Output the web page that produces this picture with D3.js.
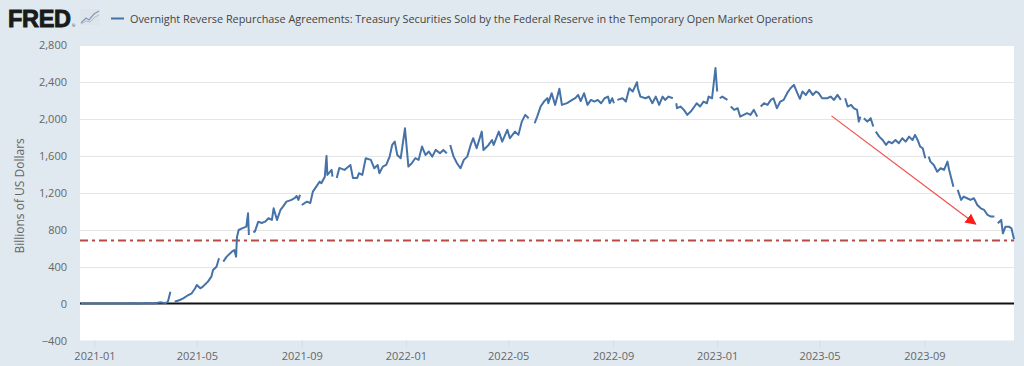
<!DOCTYPE html>
<html>
<head>
<meta charset="utf-8">
<script src="https://cdn.jsdelivr.net/npm/d3@7"></script>
<style>
  html, body { margin: 0; padding: 0; background: #e1e9f0; }
  svg { display: block; font-family: "Open Sans", "Noto Sans", sans-serif; }
</style>
</head>
<body>
<svg id="chart" width="1024" height="366"></svg>
<script>
// ---------- DATA (null = break in the line) ----------
const seriesTitle = "Overnight Reverse Repurchase Agreements: Treasury Securities Sold by the Federal Reserve in the Temporary Open Market Operations";
const yAxisTitle = "Billions of US Dollars";
const yTicks = [-400, 0, 400, 800, 1200, 1600, 2000, 2400, 2800];
const xTicks = ["2021-01", "2021-05", "2021-09", "2022-01", "2022-05", "2022-09", "2023-01", "2023-05", "2023-09"];
const xDomain = ["2020-12-15", "2023-12-15"];
const yDomain = [-400, 2800];
const referenceLevel = 685;             // dash-dot horizontal line
const arrowFrom = ["2023-05-15", 2035];  // annotation arrow
const arrowTo = ["2023-10-31", 863];

const obs2021 = [
  ["2020-12-16",0],["2020-12-28",1],["2021-01-07",2],["2021-01-19",0],["2021-02-01",1],["2021-02-12",3],
  ["2021-02-24",1],["2021-03-03",6],["2021-03-10",2],["2021-03-16",8],["2021-03-19",15],["2021-03-25",5],
  ["2021-03-28",20],["2021-03-31",129],["2021-04-02",null],["2021-04-05",20],["2021-04-11",39],["2021-04-15",57],
  ["2021-04-21",93],["2021-04-25",112],["2021-04-29",166],["2021-05-01",202],["2021-05-05",166],["2021-05-08",184],
  ["2021-05-12",220],["2021-05-14",238],["2021-05-18",292],["2021-05-20",364],["2021-05-24",400],["2021-05-27",491],
  ["2021-05-29",null],["2021-06-01",455],["2021-06-05",509],["2021-06-11",563],["2021-06-14",581],["2021-06-16",509],
  ["2021-06-17",720],["2021-06-19",798],["2021-06-23",816],["2021-06-28",834],["2021-06-30",979],["2021-07-01",744],
  ["2021-07-03",null],["2021-07-06",780],["2021-07-08",780],["2021-07-12",888],["2021-07-16",874],["2021-07-20",888],
  ["2021-07-24",925],["2021-07-28",907],["2021-07-30",1033],["2021-08-03",907],["2021-08-07",1015],["2021-08-10",1051],
  ["2021-08-14",1105],["2021-08-20",1124],["2021-08-24",1145],["2021-08-26",1167],["2021-08-28",1124],["2021-08-30",1178],
  ["2021-08-31",null],["2021-09-01",1069],["2021-09-07",1105],["2021-09-11",1091],["2021-09-14",1214],["2021-09-22",1322],
  ["2021-09-24",1305],["2021-09-28",1376],["2021-09-30",1601],["2021-10-01",1395],["2021-10-06",1449],["2021-10-07",1376],
  ["2021-10-09",null],["2021-10-12",1362],["2021-10-15",1471],["2021-10-21",1449],["2021-10-28",1503],["2021-10-31",1362],
  ["2021-11-05",1362],["2021-11-07",1413],["2021-11-11",1395],["2021-11-15",1576],["2021-11-21",1558],["2021-11-25",1467],
  ["2021-11-29",1503],["2021-12-01",1413],["2021-12-05",1485],["2021-12-09",1503],["2021-12-13",1593],["2021-12-16",1720],
  ["2021-12-19",1756],["2021-12-22",1611],["2021-12-26",1576],["2021-12-31",1900]
];
const obs2022 = [
  ["2022-01-04",1485],["2022-01-08",1522],["2022-01-12",1576],["2022-01-16",1558],["2022-01-20",1702],["2022-01-24",1611],
  ["2022-01-28",1648],["2022-02-01",1593],["2022-02-05",1666],["2022-02-10",1630],["2022-02-14",1666],["2022-02-18",1630],
  ["2022-02-20",null],["2022-02-22",1720],["2022-02-26",1593],["2022-03-02",1522],["2022-03-06",1467],["2022-03-10",1558],
  ["2022-03-14",1593],["2022-03-18",1720],["2022-03-21",1793],["2022-03-25",1684],["2022-03-31",1864],["2022-04-02",1666],
  ["2022-04-08",1720],["2022-04-12",1774],["2022-04-14",1720],["2022-04-20",1864],["2022-04-24",1756],["2022-04-30",1883],
  ["2022-05-03",1793],["2022-05-09",1864],["2022-05-13",1829],["2022-05-17",1973],["2022-05-21",2046],["2022-05-25",2010],
  ["2022-05-28",null],["2022-06-01",1955],["2022-06-04",2027],["2022-06-08",2136],["2022-06-12",2190],["2022-06-16",2227],
  ["2022-06-17",2173],["2022-06-21",2281],["2022-06-25",2154],["2022-06-30",2329],["2022-07-03",2154],["2022-07-09",2173],
  ["2022-07-15",2208],["2022-07-19",2230],["2022-07-22",2262],["2022-07-25",2195],["2022-07-29",2281],["2022-08-02",2154],
  ["2022-08-06",2208],["2022-08-10",2190],["2022-08-14",2208],["2022-08-18",2172],["2022-08-22",2226],["2022-08-26",2244],
  ["2022-08-28",2172],["2022-08-31",2226],["2022-09-02",2172],["2022-09-04",null],["2022-09-06",2208],["2022-09-12",2226],
  ["2022-09-16",2190],["2022-09-20",2335],["2022-09-24",2299],["2022-09-29",2400],["2022-09-30",2335],["2022-10-03",2244],
  ["2022-10-09",2226],["2022-10-13",2244],["2022-10-17",2172],["2022-10-21",2244],["2022-10-25",2154],["2022-10-29",2244],
  ["2022-11-01",2208],["2022-11-05",2244],["2022-11-10",2226],["2022-11-12",null],["2022-11-14",2172],["2022-11-15",2118],
  ["2022-11-19",2136],["2022-11-23",2100],["2022-11-27",2046],["2022-12-01",2082],["2022-12-04",2118],["2022-12-08",2172],
  ["2022-12-12",2136],["2022-12-16",2190],["2022-12-20",2172],["2022-12-22",2244],["2022-12-26",2226],["2022-12-30",2554]
];
const obs2023 = [
  ["2023-01-01",2299],["2023-01-02",null],["2023-01-04",2226],["2023-01-07",2244],["2023-01-13",2208],["2023-01-15",null],
  ["2023-01-17",2136],["2023-01-21",2100],["2023-01-25",2118],["2023-01-28",2027],["2023-02-01",2046],["2023-02-05",2064],
  ["2023-02-09",2046],["2023-02-13",2100],["2023-02-17",2027],["2023-02-19",null],["2023-02-21",2136],["2023-02-25",2172],
  ["2023-03-01",2154],["2023-03-05",2208],["2023-03-08",2226],["2023-03-12",2118],["2023-03-16",2190],["2023-03-20",2208],
  ["2023-03-24",2281],["2023-03-28",2335],["2023-04-01",2371],["2023-04-05",2281],["2023-04-08",2220],["2023-04-11",2299],
  ["2023-04-15",2262],["2023-04-19",2317],["2023-04-23",2262],["2023-04-27",2299],["2023-04-30",2281],["2023-05-04",2226],
  ["2023-05-10",2226],["2023-05-14",2244],["2023-05-18",2208],["2023-05-22",2262],["2023-05-26",2208],["2023-05-28",null],
  ["2023-05-31",2226],["2023-06-03",2136],["2023-06-07",2154],["2023-06-10",2118],["2023-06-14",2100],["2023-06-16",1973],
  ["2023-06-18",2027],["2023-06-20",null],["2023-06-22",2010],["2023-06-26",1973],["2023-06-30",2010],["2023-07-03",1919],
  ["2023-07-04",null],["2023-07-06",1864],["2023-07-10",1810],["2023-07-14",1774],["2023-07-18",1720],["2023-07-21",1756],
  ["2023-07-25",1738],["2023-07-29",1774],["2023-08-02",1738],["2023-08-06",1793],["2023-08-10",1756],["2023-08-14",1810],
  ["2023-08-18",1774],["2023-08-21",1829],["2023-08-24",1774],["2023-08-27",1702],["2023-08-30",1684],["2023-09-02",1576],
  ["2023-09-04",null],["2023-09-06",1593],["2023-09-08",1539],["2023-09-12",1503],["2023-09-16",1430],["2023-09-20",1467],
  ["2023-09-24",1449],["2023-09-28",1539],["2023-09-30",1449],["2023-10-02",1376],["2023-10-05",1268],["2023-10-07",null],
  ["2023-10-10",1232],["2023-10-14",1124],["2023-10-17",1160],["2023-10-21",1142],["2023-10-25",1124],["2023-10-29",1142],
  ["2023-11-02",1069],["2023-11-06",1033],["2023-11-10",1015],["2023-11-14",961],["2023-11-18",943],["2023-11-22",943],
  ["2023-11-24",null],["2023-11-26",871],["2023-11-30",907],["2023-12-02",762],["2023-12-05",834],["2023-12-09",834],
  ["2023-12-12",816],["2023-12-15",697]
];

// ---------- DRAWING ----------
const parseDay = d3.timeParse("%Y-%m-%d");
const parseMonth = d3.timeParse("%Y-%m");
const series = obs2021.concat(obs2022, obs2023).map(([d, v]) => ({ date: parseDay(d), value: v }));

const svg = d3.select("#chart");
const W = 1024, H = 366;
const plot = { left: 80, right: 1014, top: 45.3, bottom: 340.5 };

const x = d3.scaleTime().domain(xDomain.map(parseDay)).range([plot.left, plot.right]);
const y = d3.scaleLinear().domain(yDomain).range([plot.bottom, plot.top]);

svg.append("rect").attr("width", W).attr("height", H).attr("fill", "#e1e9f0");

// header
const header = svg.append("g");
header.append("text").attr("x", 8).attr("y", 27)
  .attr("font-family", "'Liberation Sans', Arial, sans-serif").attr("font-weight", 700)
  .attr("font-size", 23.5).attr("fill", "#1a1a1a").attr("stroke", "#1a1a1a").attr("stroke-width", 0.9)
  .attr("letter-spacing", -0.3).text("FRED");
header.append("text").attr("x", 72).attr("y", 27).attr("font-size", 4).attr("fill", "#333").text("®");
const icon = header.append("g").attr("transform", "translate(80,9)");
icon.append("rect").attr("width", 20).attr("height", 16).attr("fill", "#dde4ea");
icon.append("path").attr("d", "M1,14 L6,9 L9,11 L14,5 L19,2").attr("fill", "none").attr("stroke", "#7d9cc0").attr("stroke-width", 1.2);
icon.append("path").attr("d", "M1,15 L6,12 L10,13 L15,8 L19,6").attr("fill", "none").attr("stroke", "#b0bcc8").attr("stroke-width", 1);

header.append("line").attr("x1", 111).attr("x2", 124).attr("y1", 18.5).attr("y2", 18.5)
  .attr("stroke", "#4572a7").attr("stroke-width", 2);
const titleText = header.append("text").attr("x", 130).attr("y", 22.5)
  .attr("font-size", 12).attr("fill", "#444").text(seriesTitle);
const tw = titleText.node().getComputedTextLength();
titleText.attr("font-size", 12 * 683 / tw);

// plot background
svg.append("rect").attr("x", plot.left).attr("y", plot.top)
  .attr("width", plot.right - plot.left).attr("height", plot.bottom - plot.top).attr("fill", "#ffffff");

// horizontal grid
svg.append("g").selectAll("line").data(yTicks.filter(t => t !== 0 && t !== -400)).join("line")
  .attr("x1", plot.left).attr("x2", plot.right)
  .attr("y1", d => Math.round(y(d)) + 0.5).attr("y2", d => Math.round(y(d)) + 0.5)
  .attr("stroke", "#e6e6e6").attr("stroke-width", 1);

// y axis labels
const yAxis = d3.axisLeft(y).tickValues(yTicks).tickSize(0).tickPadding(0).tickFormat(d3.format(","));
const gy = svg.append("g").attr("transform", `translate(${plot.left - 13},0)`).call(yAxis);
gy.select(".domain").remove();
gy.selectAll("text").attr("font-size", 11).attr("fill", "#666").attr("font-family", "'Open Sans', sans-serif");

svg.append("text").attr("transform", `translate(24,${(plot.top + plot.bottom) / 2 + 3}) rotate(-90)`)
  .attr("text-anchor", "middle").attr("font-size", 12).attr("fill", "#666").text(yAxisTitle);

// x axis
const xAxis = d3.axisBottom(x).tickValues(xTicks.map(parseMonth)).tickSize(7).tickPadding(5)
  .tickFormat(d3.timeFormat("%Y-%m"));
const gx = svg.append("g").attr("transform", `translate(0,${plot.bottom})`).call(xAxis);
gx.select(".domain").remove();
gx.selectAll("line").attr("stroke", "#c9d4e0").attr("stroke-dasharray", "1,1");
gx.selectAll("text").attr("font-size", 11).attr("fill", "#666").attr("font-family", "'Open Sans', sans-serif");

// zero line
svg.append("line").attr("x1", plot.left).attr("x2", plot.right)
  .attr("y1", y(0)).attr("y2", y(0)).attr("stroke", "#111").attr("stroke-width", 2);

// reference dash-dot line
svg.append("line").attr("x1", plot.left).attr("x2", plot.right)
  .attr("y1", y(referenceLevel)).attr("y2", y(referenceLevel))
  .attr("stroke", "#b84a44").attr("stroke-width", 2).attr("stroke-dasharray", "8,4,3,4");

// series line
const line = d3.line().defined(d => d.value !== null)
  .x(d => x(d.date)).y(d => y(d.value));
svg.append("path").datum(series).attr("d", line)
  .attr("fill", "none").attr("stroke", "#4572a7").attr("stroke-width", 2).attr("stroke-linejoin", "round");

// annotation arrow
const defs = svg.append("defs");
defs.append("marker").attr("id", "arrowhead").attr("viewBox", "0 0 10 10")
  .attr("refX", 9).attr("refY", 5).attr("markerWidth", 11).attr("markerHeight", 11)
  .attr("markerUnits", "userSpaceOnUse").attr("orient", "auto")
  .append("path").attr("d", "M0,0 L10,5 L0,10 Z").attr("fill", "#ff1a1a");
svg.append("line")
  .attr("x1", x(parseDay(arrowFrom[0]))).attr("y1", y(arrowFrom[1]))
  .attr("x2", x(parseDay(arrowTo[0]))).attr("y2", y(arrowTo[1]))
  .attr("stroke", "#f44a4a").attr("stroke-width", 1.2).attr("marker-end", "url(#arrowhead)");
</script>
</body>
</html>
